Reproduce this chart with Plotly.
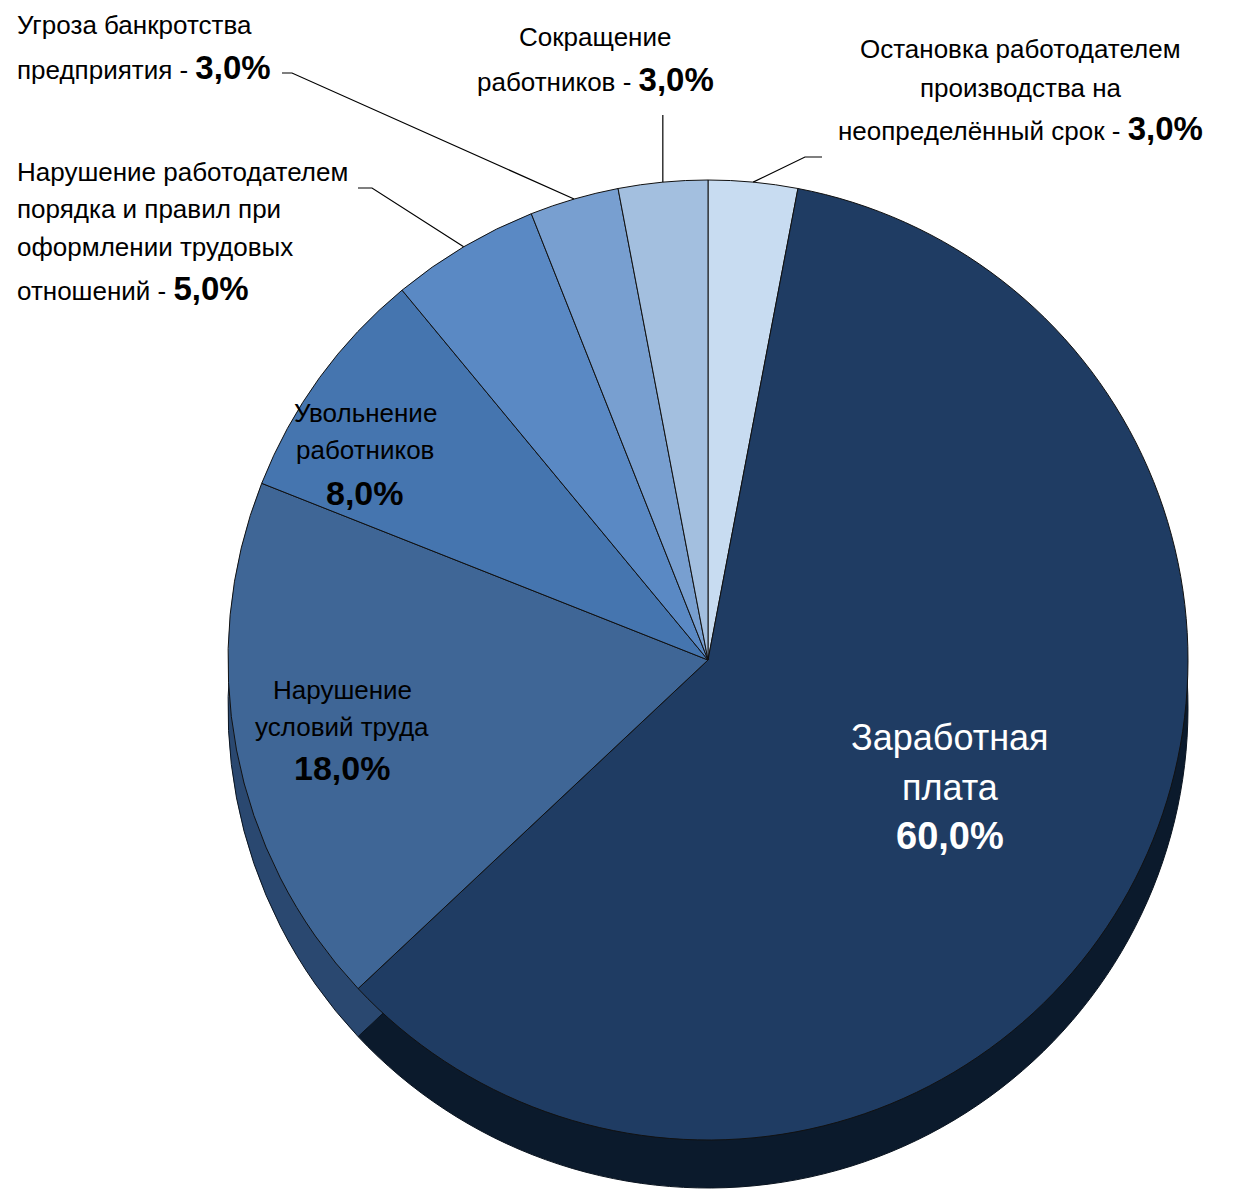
import math
import plotly.graph_objects as go

# ---- data ----
categories = [
    "Остановка работодателем производства на неопределённый срок",
    "Заработная плата",
    "Нарушение условий труда",
    "Увольнение работников",
    "Нарушение работодателем порядка и правил при оформлении трудовых отношений",
    "Угроза банкротства предприятия",
    "Сокращение работников",
]
values = [3.0, 60.0, 18.0, 8.0, 5.0, 3.0, 3.0]
# label text lines for each category (the last line carries the percentage)
label_lines = [
    ["Остановка работодателем", "производства на", "неопределённый срок - "],
    ["Заработная", "плата", ""],
    ["Нарушение", "условий труда", ""],
    ["Увольнение", "работников", ""],
    ["Нарушение работодателем", "порядка и правил при", "оформлении трудовых", "отношений - "],
    ["Угроза банкротства", "предприятия - "],
    ["Сокращение", "работников - "],
]
top_colors = ["#C8DCF1", "#1F3C63", "#3F6696", "#4575AF", "#5A89C4", "#789FD0", "#A3BFDF"]
side_colors = ["#7F93A8", "#0B1A2C", "#2A4870", "#2F5283", "#3D6496", "#5478A6", "#7390B2"]

W, H = 1240, 1191
FONT = "Liberation Sans, Arial, sans-serif"

# pie geometry (pixels)
cx, cy, r = 708, 660, 480
depth = 48

def dom(cx_, cy_, r_):
    return dict(x=[(cx_ - r_) / W, (cx_ + r_) / W],
                y=[(H - cy_ - r_) / H, (H - cy_ + r_) / H])

fig = go.Figure()
fig.add_trace(go.Pie(
    labels=categories, values=values, sort=False, direction="clockwise", rotation=0,
    marker=dict(colors=side_colors, line=dict(color="#0A1420", width=1)),
    textinfo="none", hoverinfo="skip", showlegend=False,
    domain=dom(cx, cy + depth, r),
))
fig.add_trace(go.Pie(
    labels=categories, values=values, sort=False, direction="clockwise", rotation=0,
    marker=dict(colors=top_colors, line=dict(color="#111111", width=1)),
    textinfo="none", hoverinfo="label+percent", showlegend=False,
    domain=dom(cx, cy, r),
))

def px(x, y):
    return x / W, 1 - y / H

def fmt(v):
    return f"{v:.1f}".replace(".", ",") + "%"

# edge points at slice mid-angles (derived from data)
total = sum(values)
cum = 0
edge = []
for v in values:
    mid = (cum + v / 2) / total * 2 * math.pi
    edge.append((cx + r * math.sin(mid), cy - r * math.cos(mid)))
    cum += v

annotations = []
def ann(text, x, y, size, color="#000000", xanchor="center"):
    ax, ay = px(x, y)
    annotations.append(dict(text=text, x=ax, y=ay, xref="paper", yref="paper",
                            xanchor=xanchor, yanchor="middle", align=xanchor if xanchor != "center" else "center",
                            showarrow=False,
                            font=dict(family=FONT, size=size, color=color)))

def label(i, x, ys, size, bsize, color="#000000", xanchor="center"):
    lines = label_lines[i]
    for k, (line, y) in enumerate(zip(lines, ys)):
        if k == len(lines) - 1:
            if line == "":
                ann(f"<b>{fmt(values[i])}</b>", x, y, bsize, color, xanchor)
            else:
                t = line + f"<span style='font-size:{bsize}px'><b>{fmt(values[i])}</b></span>"
                ann(t, x, y, size, color, xanchor)
        else:
            ann(line, x, y, size, color, xanchor)

# inside labels
label(1, 950, [737, 787, 836], 36, 38, "#FFFFFF")
label(2, 342, [690, 727, 768], 26, 34)
label(3, 365, [413, 450, 493], 26, 34)

# outside labels
label(5, 15, [25, 68], 26, 33, xanchor="left")
label(4, 15, [172, 209, 247, 288], 26, 33, xanchor="left")
label(6, 595, [37, 80], 26, 33)
label(0, 1020, [49, 88, 128], 26, 33)

# leader lines
shapes = []
def leader(points):
    pts = [px(x, y) for x, y in points]
    path = "M " + " L ".join(f"{a},{b}" for a, b in pts)
    shapes.append(dict(type="path", path=path, xref="paper", yref="paper",
                       line=dict(color="#000000", width=1.2)))

leader([(282, 73), (292, 73), edge[5]])
leader([(358, 188), (372, 188), edge[4]])
leader([(edge[6][0], 115), edge[6]])
leader([(822, 157), (805, 157), edge[0]])

fig.update_layout(
    width=W, height=H, margin=dict(l=0, r=0, t=0, b=0),
    paper_bgcolor="#FFFFFF", plot_bgcolor="#FFFFFF",
    annotations=annotations, shapes=shapes,
    font=dict(family=FONT),
)
fig.write_html("out.html", config={"displayModeBar": False},
               post_script="document.body.style.margin='0';document.body.style.overflow='hidden';")
